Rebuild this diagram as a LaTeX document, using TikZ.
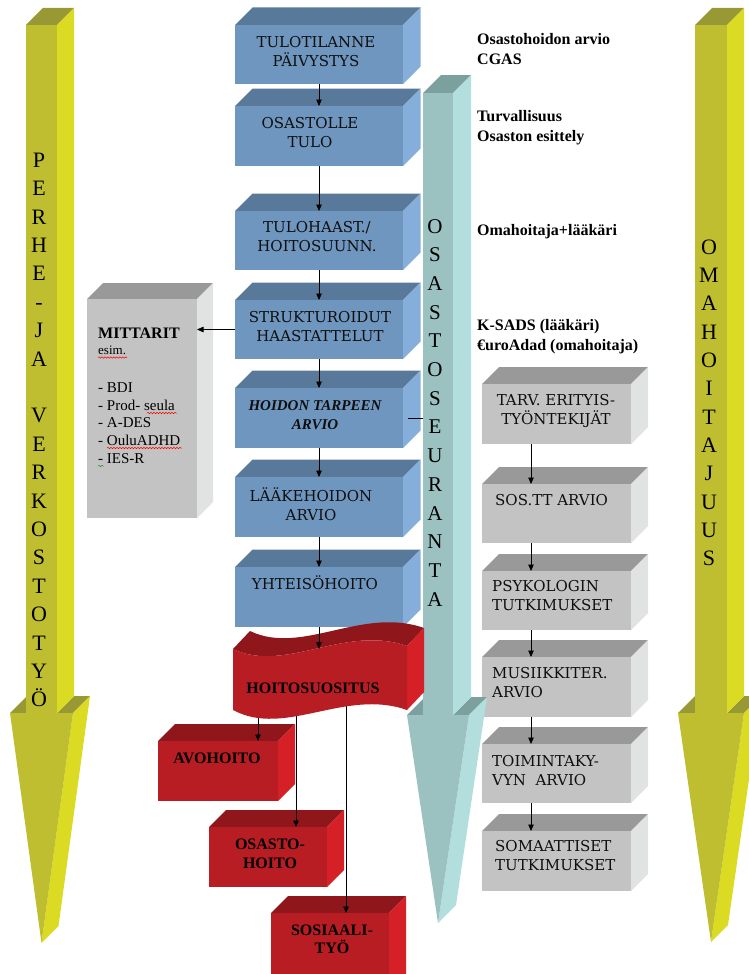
\documentclass[tikz,border=0pt]{standalone}
\usepackage{fontspec}
\setmainfont{Liberation Serif}
\newfontfamily\boxfont{DejaVu Serif}
\usetikzlibrary{arrows.meta,fit,decorations.pathmorphing}

\definecolor{bluefront}{RGB}{111,150,190}
\definecolor{bluetop}{RGB}{88,121,153}
\definecolor{blueside}{RGB}{134,174,218}
\definecolor{greyfront}{RGB}{195,195,195}
\definecolor{greytop}{RGB}{153,153,153}
\definecolor{greyside}{RGB}{225,226,226}
\definecolor{redfront}{RGB}{184,29,35}
\definecolor{redtop}{RGB}{143,23,27}
\definecolor{redside}{RGB}{213,32,40}
\definecolor{yelfront}{RGB}{191,190,48}
\definecolor{yeltop}{RGB}{152,152,52}
\definecolor{yelside}{RGB}{219,219,36}
\definecolor{tealfront}{RGB}{155,193,192}
\definecolor{tealtop}{RGB}{124,160,158}
\definecolor{tealside}{RGB}{179,222,222}
\definecolor{txtdark}{RGB}{15,15,15}
\definecolor{spellgreen}{RGB}{40,140,60}

% 3D block: name, front x1, y1, x2, y2, palette, depth
\newcommand\solidbox[7]{%
  \fill[#6top] (#2,#3) -- ({#2+#7},{#3-#7}) -- ({#4+#7},{#3-#7}) -- (#4,#3) -- cycle;
  \fill[#6side] (#4,#3) -- ({#4+#7},{#3-#7}) -- ({#4+#7},{#5-#7}) -- (#4,#5) -- cycle;
  \fill[#6front] (#2,#3) rectangle (#4,#5);
  \node[inner sep=0pt, outer sep=0pt, fit={(#2,#3) (#4,#5)}] (#1) {};
}

% 3D downward arrow: palette, shaft left, shaft right, depth, top, shoulder, overhang, tip, name
\newcommand\bigarrow[9]{%
  \fill[#1top] ({#2-#7},#6) -- (#2,#6) -- ({#2+#4},{#6-#4}) -- ({#2-#7+#4},{#6-#4}) -- cycle;
  \fill[#1top] (#3,#6) -- ({#3+#7},#6) -- ({#3+#7+#4},{#6-#4}) -- ({#3+#4},{#6-#4}) -- cycle;
  \fill[#1top] (#2,#5) -- ({#2+#4},{#5-#4}) -- ({#3+#4},{#5-#4}) -- (#3,#5) -- cycle;
  \fill[#1side] (#3,#5) -- ({#3+#4},{#5-#4}) -- ({#3+#4},{#6-#4}) -- (#3,#6) -- cycle;
  \fill[#1front] (#2,#5) rectangle (#3,#6);
  \fill[#1side] ({#3+#7},#6) -- ({#3+#7+#4},{#6-#4}) -- ({(#2+#3)/2+#4},{#8-#4}) -- ({(#2+#3)/2},#8) -- cycle;
  \fill[#1front] ({#2-#7},#6) -- ({#3+#7},#6) -- ({(#2+#3)/2},#8) -- cycle;
  \node[inner sep=0pt, outer sep=0pt, fit={(#2,#5) (#3,#6)}] (#9) {};
}

\begin{document}
\begin{tikzpicture}[x=1pt, y=-1pt,
  arr/.style={draw=black, line width=0.8pt, -{Triangle[length=6.5pt,width=5.5pt]}},
  plain/.style={draw=black, line width=0.8pt},
  boxtxt/.style={font=\boxfont\fontsize{15}{19}\selectfont, text=txtdark, inner sep=0pt, align=center},
  boxtxtl/.style={boxtxt, align=left, anchor=west},
  redtxt/.style={font=\bfseries\fontsize{16}{18.5}\selectfont, text=black, inner sep=0pt, align=center},
  note/.style={font=\bfseries\fontsize{16}{19}\selectfont, inner sep=0pt, anchor=base west},
  bigletter/.style={font=\fontsize{22}{22}\selectfont, inner sep=0pt, anchor=base},
  tealletter/.style={font=\fontsize{21}{21}\selectfont, inner sep=0pt, anchor=base},
  mtxt/.style={font=\fontsize{15}{17}\selectfont, inner sep=0pt, anchor=base west},
  spell/.style={line width=0.5pt, decorate, decoration={snake, amplitude=0.7pt, segment length=3pt}}]

\useasboundingbox (0,0) rectangle (749,974);
\clip (0,0) rectangle (749,974);

% side arrows
\bigarrow{yel}{26}{57}{17}{25}{713}{16}{943}{perhe}
\bigarrow{yel}{695}{727}{17}{25}{713}{17}{942}{omah}

\foreach \ch [count=\i from 0] in {P,E,R,H,E,-,J,A,{},V,E,R,K,O,S,T,O,T,Y,Ö}
  \node[bigletter, name=pl\i] at (39,{167.3+\i*28.4}) {\ch};
\foreach \ch [count=\i from 0] in {O,M,A,H,O,I,T,A,J,U,U,S}
  \node[bigletter, name=ol\i] at (709,{254.3+\i*28.3}) {\ch};

% main column
\solidbox{b1}{235}{25}{403}{84}{blue}{17.5}
\solidbox{b2}{235}{106}{403}{166}{blue}{17.5}
\solidbox{b3}{235}{211}{403}{270}{blue}{17.5}
\solidbox{b4}{235}{300}{403}{359}{blue}{17.5}
\solidbox{b5}{235}{388}{403}{448}{blue}{17.5}
\solidbox{b6}{235}{477}{403}{537}{blue}{17.5}
\solidbox{b7}{235}{567}{403}{627}{blue}{17.5}

\node[boxtxt] (t1) at (316,52) {TULOTILANNE\\PÄIVYSTYS};
\node[boxtxt] (t2) at (310,133) {OSASTOLLE\\TULO};
\node[boxtxt] (t3) at (317,237) {TULOHAAST./\\HOITOSUUNN.};
\node[boxtxt] (t4) at (320,327) {STRUKTUROIDUT\\HAASTATTELUT};
\node[boxtxt, font=\bfseries\itshape\fontsize{15}{19}\selectfont] (t5) at (315,415) {HOIDON TARPEEN\\ARVIO};
\node[boxtxt] (t6) at (311,504) {LÄÄKEHOIDON\\ARVIO};
\node[boxtxt] (t7) at (315,583) {YHTEISÖHOITO};

% measures
\solidbox{mit}{87}{299}{197}{518}{grey}{16}
\node[mtxt, font=\bfseries\fontsize{16}{18}\selectfont] (m0) at (98,338) {MITTARIT};
\node[mtxt, font=\fontsize{13}{15}\selectfont] (m1) at (98,354) {esim.};
\node[mtxt] (m2) at (98,392) {- BDI};
\node[mtxt] (m3) at (98,410) {- Prod- seula};
\node[mtxt] (m4) at (98,427) {- A-DES};
\node[mtxt] (m5) at (98,445) {- OuluADHD};
\node[mtxt] (m6) at (98,463) {- IES-R};
\draw[spell, red] (98,357.5) -- (127,357.5);
\draw[spell, red] (147,413) -- (177,413);
\draw[spell, red] (107,448) -- (182,448);
\draw[spell, spellgreen] (98,466) -- (104,466);

% specialist column
\solidbox{g1}{482}{384}{631}{444}{grey}{17}
\solidbox{g2}{482}{484}{631}{543}{grey}{17}
\solidbox{g3}{482}{571}{631}{630}{grey}{17}
\solidbox{g4}{482}{657}{631}{717}{grey}{17}
\solidbox{g5}{482}{744}{631}{803}{grey}{17}
\solidbox{g6}{482}{831}{631}{891}{grey}{17}

\node[boxtxt] (gt1) at (556,411) {TARV. ERITYIS-\\TYÖNTEKIJÄT};
\node[boxtxtl] (gt2) at (495,500) {SOS.TT ARVIO};
\node[boxtxtl] (gt3) at (492,595.5) {PSYKOLOGIN\\TUTKIMUKSET};
\node[boxtxtl] (gt4) at (492,682.5) {MUSIIKKITER.\\ARVIO};
\node[boxtxtl] (gt5) at (492,770.5) {TOIMINTAKY-\\VYN\ \ ARVIO};
\node[boxtxtl] (gt6) at (495,856) {SOMAATTISET\\TUTKIMUKSET};

% ward follow-up arrow
\bigarrow{teal}{423}{453}{18}{93}{715}{16}{923}{seur}
\foreach \ch [count=\i from 0] in {O,S,A,S,T,O,S,E,U,R,A,N,T,A}
  \node[tealletter, name=sl\i] at (435,{233+\i*28.7}) {\ch};

% outcome blocks
\solidbox{avo}{158}{741}{278}{801}{red}{17}
\solidbox{osa}{209}{827}{327}{887}{red}{17}
\solidbox{sos}{271}{913}{389}{995}{red}{17}
\node[redtxt] (rt1) at (217,758) {AVOHOITO};
\node[redtxt] (rt2) at (270,854) {OSASTO-\\HOITO};
\node[redtxt] (rt3) at (332,939.5) {SOSIAALI-\\TYÖ};

\coordinate (h1) at (258,690);
\coordinate (h2) at (296,690);
\coordinate (h3) at (346,690);
\draw[arr] (h1) -- (h1 |- avo.north);
\draw[arr] (h2) -- (h2 |- osa.north);
\draw[arr] (h3) -- (h3 |- sos.north);

% wave-shaped recommendation block
\fill[redtop] (233,649) .. controls (285,674) and (345,624) .. (407,646)
  -- (424,628) .. controls (362,606) and (302,656) .. (250,631) -- cycle;
\fill[redside] (407,646) -- (424,628) -- (424,692) -- (407,710) -- cycle;
\fill[redfront] (233,649) .. controls (285,674) and (345,624) .. (407,646)
  -- (407,710) .. controls (345,688) and (285,738) .. (233,710) -- cycle;
\node[inner sep=0pt, fit={(233,649) (407,710)}] (hoito) {};
\node[redtxt] (ht) at (313,688) {HOITOSUOSITUS};

% connectors
\draw[arr] (b1) -- (b2);
\draw[arr] (b2) -- (b3);
\draw[arr] (b3) -- (b4);
\draw[arr] (b4) -- (b5);
\draw[arr] (b5) -- (b6);
\draw[arr] (b6) -- (b7);
\draw[arr] (b7.south) -- (b7.south |- hoito.north);
\draw[arr] (b4.west) -- (b4.west -| mit.east);
\draw[plain] ([xshift=5pt]b5.east) -- (b5.east -| seur.west);

\coordinate (gx) at (531,0);
\draw[arr] (g1.south -| gx) -- (g2.north -| gx);
\draw[arr] (g2.south -| gx) -- (g3.north -| gx);
\draw[arr] (g3.south -| gx) -- (g4.north -| gx);
\draw[arr] (g4.south -| gx) -- (g5.north -| gx);
\draw[arr] (g5.south -| gx) -- (g6.north -| gx);

% notes
\node[note] (n1) at (477,45) {Osastohoidon arvio};
\node[note] (n2) at (477,64) {CGAS};
\node[note] (n3) at (477,121) {Turvallisuus};
\node[note] (n4) at (477,141) {Osaston esittely};
\node[note] (n5) at (477,235) {Omahoitaja+lääkäri};
\node[note] (n6) at (477,330) {K-SADS (lääkäri)};
\node[note] (n7) at (477,350) {€uroAdad (omahoitaja)};
\end{tikzpicture}
\end{document}
